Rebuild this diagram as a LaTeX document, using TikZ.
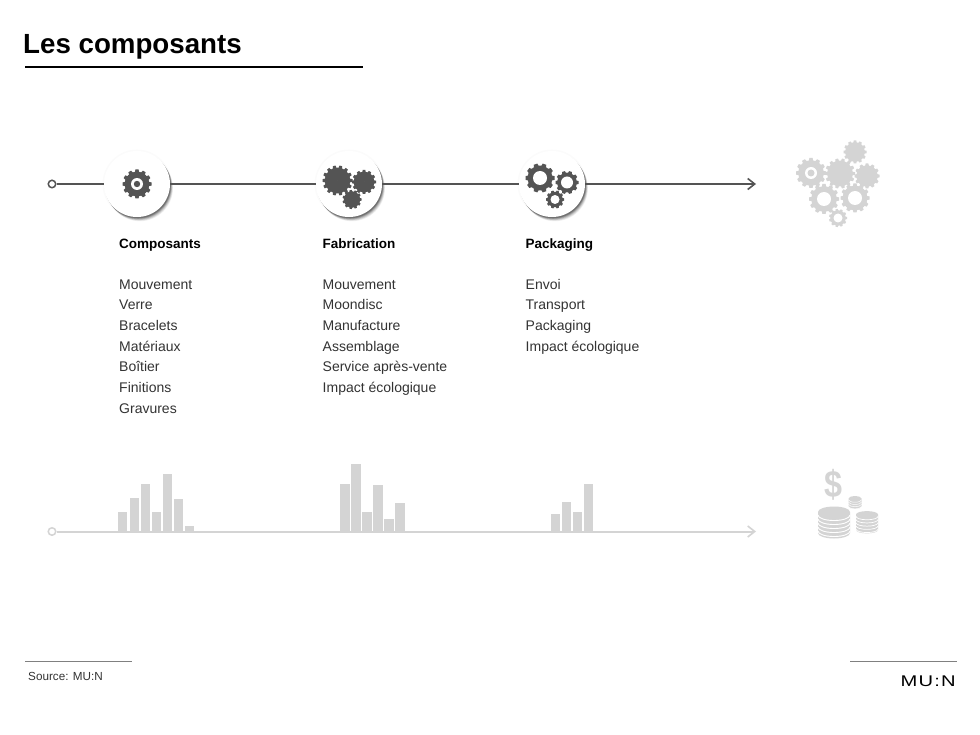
\documentclass[tikz,border=0pt]{standalone}
\usepackage{fontspec}
\setmainfont{Liberation Sans}
\usetikzlibrary{arrows.meta}
\definecolor{ink}{gray}{0.33}
\definecolor{pale}{gray}{0.83}
\definecolor{txt}{gray}{0.2}
% gear: x, y, radius, hole radius, teeth, colour
\newcommand{\gearshape}[6]{%
  \begin{scope}[shift={(#1,#2)}]
    \fill[#6] (0,0) circle[radius=0.86*#3];
    \foreach \a in {1,...,#5}{
      \fill[#6,rotate={\a*360/#5}] (0.75*#3,-1.9/#5*#3) -- (#3,-1.3/#5*#3) -- (#3,1.3/#5*#3) -- (0.75*#3,1.9/#5*#3) -- cycle;
    }
    \fill[white] (0,0) circle[radius=#4];
  \end{scope}}
% coin stack: x, top-ellipse y, bottom y, rx, ry, gap, line width
\newcommand{\coinstack}[7]{%
  \fill[pale] (#1-#4,#2) -- (#1-#4,#3) arc[start angle=180,end angle=0,x radius=#4,y radius=#5] -- (#1+#4,#2) arc[start angle=0,end angle=-180,x radius=#4,y radius=#5] -- cycle;
  \pgfmathsetmacro{\cstart}{#2+#5*0.55}
  \pgfmathsetmacro{\cnext}{\cstart+#6}
  \foreach \y in {\cstart,\cnext,...,#3}{
    \draw[white,line width=#7] (#1-#4,\y) arc[start angle=180,end angle=0,x radius=#4,y radius=#5];
  }}
\tikzset{
  x=1pt,y=-1pt,
  hub/.style={circle,fill=white,minimum size=66pt,inner sep=0pt},
  startdot/.style={circle,draw=#1,fill=white,line width=1.5pt,minimum size=7.5pt,inner sep=0pt},
  heading/.style={anchor=base west,inner sep=0pt,font=\fontsize{13.5}{17}\selectfont\bfseries,text=black},
  items/.style={anchor=north west,inner sep=0pt,align=left,font=\fontsize{14}{20.7}\selectfont,text=txt},
  rule/.style={line width=1.1pt,draw=gray},
  tl/.style={line width=2pt},
  barb/.style={-{Straight Barb[length=7pt,width=11pt,line width=1.6pt]}}
}
\begin{document}
\begin{tikzpicture}
\useasboundingbox (0,0) rectangle (980,735);
\fill[white] (0,0) rectangle (980,735);
% title
\node[anchor=base west,inner sep=0pt,font=\fontsize{27.7}{32}\selectfont\bfseries] (title) at (23,53.5) {Les composants};
\coordinate (ruleL) at (25,66.8); \coordinate (ruleR) at (363,66.8);
\draw[line width=2pt,black] (ruleL) -- (ruleR);

% top timeline
\foreach \x in {137,349,552}{
  \fill[black,opacity=0.015] (\x,184) circle[radius=34.5];
  \foreach \o/\s in {0.06/4.2,0.08/3.6,0.1/3,0.12/2.4,0.16/1.8,0.2/1.2}{
    \fill[black,opacity=\o] (\x+\s*0.7,184+\s) circle[radius=33];
  }
}
\node[hub] (h1) at (137,184) {};
\node[hub] (h2) at (349,184) {};
\node[hub] (h3) at (552,184) {};
\node[startdot=ink] (s1) at (52,184) {};
\coordinate (e1) at (756,184);
\draw[ink,tl] (s1) -- (h1);
\draw[ink,tl] (h1) -- (h2);
\draw[ink,tl] (h2) -- (h3);
\draw[ink,tl,barb] (h3) -- (e1);

% hub gears
\gearshape{137}{184}{14.5}{6}{12}{ink}
\fill[ink] (137,184) circle[radius=3.2];
\gearshape{337.5}{180.5}{15}{0}{14}{ink}
\gearshape{364}{182}{12}{0}{12}{ink}
\gearshape{352}{199.5}{9.5}{0}{11}{ink}
\gearshape{540}{178}{14.5}{7}{10}{ink}
\gearshape{567}{182.5}{11.5}{6}{10}{ink}
\gearshape{555}{199.5}{9}{4.5}{10}{ink}

% right gear cluster
\gearshape{855}{152}{11.5}{0}{12}{pale}
\gearshape{811}{173}{15}{6}{12}{pale}
\fill[pale] (811,173) circle[radius=3.5];
\gearshape{840}{173.5}{15}{0}{14}{pale}
\gearshape{867}{176}{12.5}{0}{12}{pale}
\gearshape{824}{199}{15}{7}{12}{pale}
\gearshape{855}{198}{14.5}{7}{12}{pale}
\gearshape{838}{218}{9}{4.5}{11}{pale}

% text columns
\node[heading] (t1) at (119,248.5) {Composants};
\node[items] (l1) at (119,274.5) {\strut Mouvement\\Verre\\Bracelets\\Matériaux\\Boîtier\\Finitions\\Gravures};
\node[heading] (t2) at (322.5,248.5) {Fabrication};
\node[items] (l2) at (322.5,274.5) {\strut Mouvement\\Moondisc\\Manufacture\\Assemblage\\Service après-vente\\Impact écologique};
\node[heading] (t3) at (525.5,248.5) {Packaging};
\node[items] (l3) at (525.5,274.5) {\strut Envoi\\Transport\\Packaging\\Impact écologique};

% bottom timeline
\node[startdot=pale] (s2) at (52,531.5) {};
\coordinate (e2) at (756,531.5);
\draw[pale,tl,barb] (s2) -- (e2);
\foreach \x/\y in {118.3/512.3,129.7/498.3,140.7/484,151.7/512.3,163/474,174/499.3,185/525.7}{
  \fill[pale] (\x,\y) rectangle (\x+9,531);
}
\foreach \x/\y in {340/484,351/464,362/512,373/485,384/519,395/503}{
  \fill[pale] (\x,\y) rectangle (\x+10,531);
}
\foreach \x/\y in {551/514,562/502,573/512,584/484}{
  \fill[pale] (\x,\y) rectangle (\x+9,531);
}

% coins
\node[inner sep=0pt,text=pale] (dollar) at (833,485) {\scalebox{0.85}[1]{\fontsize{38}{38}\selectfont\bfseries\$}};
\coinstack{834}{512}{533}{16}{5.5}{4}{0.9pt}
\coinstack{867}{514.5}{530}{11}{3.4}{3.2}{0.7pt}
\coinstack{855}{498.5}{506.5}{6.5}{2.4}{2.2}{0.5pt}

% footer
\coordinate (fl1) at (25,661.5); \coordinate (fl2) at (132,661.5);
\draw[rule] (fl1) -- (fl2);
\node[anchor=base west,inner sep=0pt,font=\fontsize{11.7}{14}\selectfont,text=txt] (src) at (28,680) {Source: MU:N};
\coordinate (fr1) at (850,661.5); \coordinate (fr2) at (957,661.5);
\draw[rule] (fr1) -- (fr2);
\node[anchor=base east,inner sep=0pt,text=black] (logo) at (956,686) {\scalebox{1.3}[1]{\fontsize{15.5}{18}\selectfont\addfontfeature{LetterSpace=6}MU:N}};
\end{tikzpicture}
\end{document}
